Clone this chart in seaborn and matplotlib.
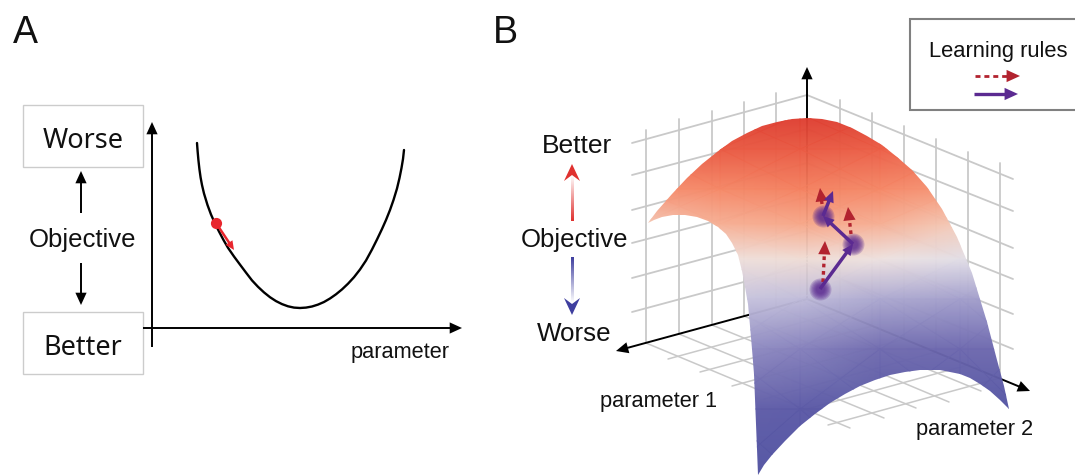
import numpy as np
import matplotlib
matplotlib.use('Agg')
import matplotlib.pyplot as plt
import seaborn as sns
from matplotlib.colors import LinearSegmentedColormap
from matplotlib.patches import Polygon, Rectangle

# ── Values (pixel positions) ──────────────────────────────────────
curve_x = [197, 197.6, 198.4, 199.4, 200.6, 202, 204, 207.5, 211, 215, 219, 223.5, 228, 234, 240, 246, 252, 258,
           264, 270, 276, 282, 288, 294, 300, 306, 312, 318, 324, 330, 336, 342, 348, 354, 360, 366, 372, 377,
           382, 386, 390, 393.5, 397, 399.5, 401.5, 403, 404]
curve_y = [144, 152, 161, 170, 178.5, 186, 194.5, 206, 215.5, 224.5, 232.5, 241, 248.8, 257.5, 265.6, 273.6, 281.4,
           287.8, 293.4, 298.2, 302.1, 305.1, 307.3, 308.6, 309, 308.6, 307.5, 305.6, 303, 299.5, 295.3, 290.4,
           284.7, 278.2, 270.5, 261.5, 250.5, 240.5, 230, 221, 211, 201, 189.5, 179, 169, 160, 151]

# surface outline, clockwise from the left tip
edge_x = [648, 657, 672, 687, 702, 717, 732, 747, 762, 777, 792, 807,
          822, 837, 852, 867, 882, 897, 912, 927, 942, 957, 972, 987, 997, 1004, 1009,
          1000, 990, 980, 970, 960, 950, 940, 930, 920, 905, 890, 875, 860, 845, 830, 815, 800, 785, 772, 764, 758,
          757.3, 756.3, 755, 753.6, 752, 750.3, 748, 745.3, 742, 737.5, 732, 726, 718, 708, 697, 685, 673, 662, 654]
edge_y = [224, 212.4, 194.6, 178.8, 164.8, 152.6, 142.3, 133.9, 127.4, 122.7, 119.9, 119,
          120.1, 123.4, 128.9, 136.6, 146, 157.5, 171.4, 188, 210, 238, 274, 323, 361, 387, 410,
          401, 391.5, 384.5, 379, 375.3, 372.8, 371.4, 371, 371.3, 373, 376.2, 381, 387, 394.8, 404, 414.6, 427,
          441.5, 455.5, 465.5, 476,
          450, 425, 400, 375, 350, 327, 305, 288, 272, 256, 244, 235, 227.5, 221.5, 217.5, 215.5, 215.5, 218, 220.5]

# objective read on a coarse grid over the surface (0 worse, 1 better)
surf_x = [640, 720, 800, 880, 960, 1020]
surf_y = [115, 150, 190, 225, 260, 300, 350, 410, 480]
surf_z = [[1.00, 1.00, 1.00, 1.00, 1.00, 1.00],
          [0.92, 0.93, 0.93, 0.92, 0.90, 0.90],
          [0.78, 0.80, 0.82, 0.80, 0.75, 0.70],
          [0.62, 0.68, 0.70, 0.68, 0.62, 0.60],
          [0.55, 0.55, 0.56, 0.54, 0.50, 0.50],
          [0.46, 0.45, 0.43, 0.39, 0.37, 0.36],
          [0.34, 0.33, 0.29, 0.23, 0.22, 0.22],
          [0.17, 0.16, 0.12, 0.08, 0.06, 0.06],
          [0.03, 0.03, 0.03, 0.03, 0.03, 0.03]]
objective_stops = [0, 0.2, 0.35, 0.45, 0.52, 0.6, 0.7, 0.82, 0.92, 1]
objective_colors = ['#4d50a0', '#6560aa', '#9a96c8', '#c9c5de', '#ece8ea',
                    '#f3d2c3', '#f7a88a', '#f4805f', '#ec5e45', '#dc3a2e']

# wall and floor grid
left_wall_x = [646, 679, 712, 744, 776]
left_wall_top = [131, 120, 112, 103, 94]
left_wall_bottom = [344, 335, 326, 317, 308]
right_wall_x = [840, 872, 904, 936, 968, 1000]
right_wall_top = [101, 114, 127, 140, 153, 164]
right_wall_bottom = [313, 327, 340, 353, 366, 379]
left_rows_outer = [144, 176, 211, 244, 279, 313]
left_rows_inner = [96, 130, 164, 198, 232, 266]
right_rows_outer = [180, 212, 249, 280, 315, 350]
floor_a_end_x = [850, 884, 916, 949, 981]
floor_a_end_y = [429, 419, 409, 403, 392]
floor_b_end_x = [668, 700, 732, 764, 796, 828]
floor_b_end_y = [360, 373, 387, 400, 413, 426]

# learning-rule steps on the surface
dots_x = [820, 853, 823]
dots_y = [290, 245, 217]
purple_x = [820, 853, 823, 833]
purple_y = [290, 245, 217, 192]
red_start_x = [823, 851, 822]
red_start_y = [283, 235, 205]
red_tip_x = [825, 848, 820]
red_tip_y = [242, 208, 189]

RED = '#b2232f'
PURPLE = '#5b2a91'
GREY = '#c9c9c9'

sns.set_theme(style='white')
plt.rcParams['font.family'] = ['Liberation Sans', 'DejaVu Sans']

fig = plt.figure(figsize=(10.75, 4.77), dpi=100)
ax = fig.add_axes([0, 0, 1, 1])


def arrow(x0, y0, x1, y1, color='black', lw=1.4, ls='-', head=11, z=3):
    v = np.array([x1 - x0, y1 - y0], dtype=float)
    v = v / np.hypot(*v)
    hx, hy = x1 - v[0] * head, y1 - v[1] * head
    ax.plot([x0, hx], [y0, hy], color=color, lw=lw, ls=ls, zorder=z, solid_capstyle='butt')
    ax.annotate('', xy=(x1, y1), xytext=(hx, hy), zorder=z,
                arrowprops=dict(arrowstyle='-|>,head_width=0.32,head_length=0.7', color=color,
                                lw=0, shrinkA=0, shrinkB=0, mutation_scale=head * 1.15))


def fade_arrow(x, y0, y1, color):
    # stem fading to white at its base, then a notched head
    ramp = LinearSegmentedColormap.from_list('ramp', ['white', color])
    sign = 1 if y1 > y0 else -1
    neck = y1 - sign * 12
    ax.imshow(np.linspace(0, 1, 60)[:, None], cmap=ramp, aspect='auto',
              extent=(x - 1.3, x + 1.3, neck, y0), origin='lower', zorder=3)
    ax.add_patch(Polygon([(x - 8, y1 - sign * 17), (x, y1), (x + 8, y1 - sign * 17), (x, y1 - sign * 11)],
                         fc=color, ec='none', zorder=3))


# ── Panel A ───────────────────────────────────────────────────────
for top, word in [(106, 'Worse'), (313, 'Better')]:
    ax.add_patch(Rectangle((23, top), 120, 62, fc='white', ec='#cccccc', lw=1, zorder=1))
    ax.text(83, top + 35, word, ha='center', va='center', fontsize=19.5, family='Noto Sans', color='#111111')
ax.text(82, 240, 'Objective', ha='center', va='center', fontsize=18.5, color='#111111')
arrow(81, 214, 81, 172)
arrow(81, 264, 81, 306)
arrow(152, 348, 152, 123)
arrow(143, 329, 462, 329)
sns.lineplot(x=curve_x, y=curve_y, sort=False, color='black', lw=1.7, errorbar=None, ax=ax, zorder=3)
arrow(216, 224, 234, 251, color='#e8262d', lw=1.8, head=8, z=3.5)
sns.scatterplot(x=[216], y=[224], s=65, color='#e8262d', linewidth=0, ax=ax, zorder=4)
ax.text(400, 353, 'parameter', ha='center', va='center', fontsize=15.7, color='#111111')
ax.text(25, 33, 'A', ha='center', va='center', fontsize=27, color='#111111')

# ── Panel B: grid behind the surface ──────────────────────────────
for x, top, bottom in zip(left_wall_x + right_wall_x, left_wall_top + right_wall_top,
                          left_wall_bottom + right_wall_bottom):
    ax.plot([x, x], [top, bottom], color=GREY, lw=1.3, zorder=1)
for outer, inner in zip(left_rows_outer, left_rows_inner):
    ax.plot([632, 807], [outer, inner], color=GREY, lw=1.3, zorder=1)
for outer, inner in zip(right_rows_outer, left_rows_inner):
    ax.plot([807, 1013], [inner, outer], color=GREY, lw=1.3, zorder=1)
for x, y0, x1, y1 in zip(left_wall_x, left_wall_bottom, floor_a_end_x, floor_a_end_y):
    ax.plot([x, x1], [y0, y1], color=GREY, lw=1.1, zorder=1)
for x, y0, x1, y1 in zip(right_wall_x, right_wall_bottom, floor_b_end_x, floor_b_end_y):
    ax.plot([x, x1], [y0, y1], color=GREY, lw=1.1, zorder=1)

arrow(807, 300, 616, 352, z=1.5)
arrow(807, 300, 1030, 392, z=1.5)
arrow(807, 300, 807, 68, z=1.5)

# ── Panel B: surface ──────────────────────────────────────────────
cmap = LinearSegmentedColormap.from_list('objective', list(zip(objective_stops, objective_colors)))
mesh = ax.pcolormesh(surf_x, surf_y, surf_z, cmap=cmap, vmin=0, vmax=1, shading='gouraud', alpha=0.97, zorder=2)
outline = Polygon(np.column_stack([edge_x, edge_y]), closed=True, transform=ax.transData, fc='none', ec='none')
ax.add_patch(outline)
mesh.set_clip_path(outline)

# ── Panel B: learning rule steps ──────────────────────────────────
for size in [250, 200, 155, 115, 85, 60, 40]:
    sns.scatterplot(x=dots_x, y=dots_y, s=size, color=PURPLE, alpha=0.24, linewidth=0, ax=ax, zorder=4)
for x0, y0, x1, y1 in zip(red_start_x, red_start_y, red_tip_x, red_tip_y):
    arrow(x0, y0, x1, y1, color=RED, lw=2.4, ls=(0, (1.1, 1.1)), head=12, z=5)
for i in range(3):
    arrow(purple_x[i], purple_y[i], purple_x[i + 1], purple_y[i + 1], color=PURPLE, lw=2.5, head=10, z=6)

# ── Panel B: labels and legend ────────────────────────────────────
ax.text(577, 146, 'Better', ha='center', va='center', fontsize=19, color='#111111')
ax.text(574, 240, 'Objective', ha='center', va='center', fontsize=18.5, color='#111111')
ax.text(574, 334, 'Worse', ha='center', va='center', fontsize=18.7, color='#111111')
fade_arrow(572, 222, 165, '#e0312f')
fade_arrow(572, 258, 316, '#3f3f9f')
ax.text(659, 402, 'parameter 1', ha='center', va='center', fontsize=15.7, color='#111111')
ax.text(975, 430, 'parameter 2', ha='center', va='center', fontsize=15.7, color='#111111')
ax.text(505, 33, 'B', ha='center', va='center', fontsize=27, color='#111111')

ax.add_patch(Rectangle((910, 20), 200, 91, fc='white', ec='#808080', lw=1.5, zorder=1))
ax.text(998, 52, 'Learning rules', ha='center', va='center', fontsize=15.8, color='#111111')
arrow(975, 77, 1020, 77, color=RED, lw=2, ls=(0, (1.8, 1.4)), head=12)
arrow(974, 95, 1018, 95, color=PURPLE, lw=2.4, head=12)

ax.set_xlim(0, 1075)
ax.set_ylim(477, 0)
ax.axis('off')

fig.savefig('out.png', dpi=100)
